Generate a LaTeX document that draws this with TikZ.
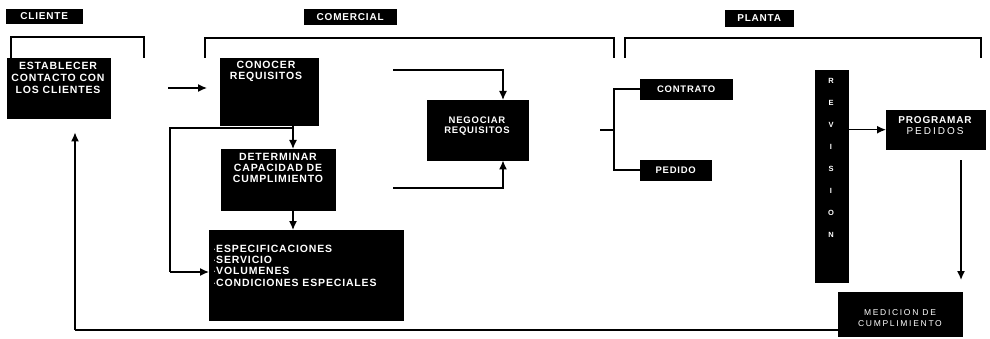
\documentclass[tikz,border=0pt]{standalone}
\usepackage{fontspec}
\setmainfont{Liberation Sans}
\newfontfamily\bxfont[LetterSpace=8]{Liberation Sans Bold}
\newfontfamily\lgfont[LetterSpace=20]{Liberation Sans}
\usetikzlibrary{arrows.meta}
\begin{document}
\begin{tikzpicture}[x=1pt,y=-1pt,
  blk/.style={fill=black,draw=black,inner sep=0pt,anchor=north west},
  wt/.style={text=white,inner sep=0pt,align=center},
  ln/.style={line width=1.4pt},
  arr/.style={line width=1.4pt,-{Latex[length=9pt,width=8pt]}}]
\useasboundingbox (0,0) rectangle (990,339);
% section labels
\node[blk,minimum width=76pt,minimum height=14pt] (lcli) at (6,9) {};
\node[wt,font=\bxfont\fontsize{10}{10}\selectfont] (tcli) at (lcli.center) {CLIENTE};
\node[blk,minimum width=92pt,minimum height=15pt] (lcom) at (304,9) {};
\node[wt,font=\bxfont\fontsize{10}{10}\selectfont] (tcom) at (lcom.center) {COMERCIAL};
\node[blk,minimum width=68pt,minimum height=16pt] (lpla) at (725,10) {};
\node[wt,font=\bxfont\fontsize{10}{10}\selectfont] (tpla) at (lpla.center) {PLANTA};
% brackets
\draw[ln] (11,58) -- (11,37) -- (144,37) -- (144,58);
\draw[ln] (205,58) -- (205,38) -- (614,38) -- (614,58);
\draw[ln] (625,58) -- (625,38) -- (981,38) -- (981,58);
% boxes
\node[blk,minimum width=103pt,minimum height=60pt] (est) at (7,58) {};
\node[wt,anchor=north,font=\bxfont\fontsize{10.5}{12}\selectfont] (test) at (58,62) {ESTABLECER\\CONTACTO CON\\LOS CLIENTES};
\node[blk,minimum width=98pt,minimum height=67pt] (con) at (220,58) {};
\node[wt,anchor=north,font=\bxfont\fontsize{10.5}{11}\selectfont] (tcon) at (266,61) {CONOCER\\REQUISITOS};
\node[blk,minimum width=114pt,minimum height=61pt] (det) at (221,149) {};
\node[wt,anchor=north,font=\bxfont\fontsize{10.5}{11}\selectfont] (tdet) at (278,153) {DETERMINAR\\CAPACIDAD DE\\CUMPLIMIENTO};
\node[blk,minimum width=194pt,minimum height=90pt] (spec) at (209,230) {};
\node[wt,anchor=north west,align=left,font=\bxfont\fontsize{10.5}{11.2}\selectfont] (tspec) at (213,245) {$\cdot$ESPECIFICACIONES\\$\cdot$SERVICIO\\$\cdot$VOLUMENES\\$\cdot$CONDICIONES ESPECIALES};
\node[blk,minimum width=101pt,minimum height=60pt] (neg) at (427,100) {};
\node[wt,font=\bxfont\fontsize{9.5}{10.5}\selectfont] (tneg) at (477,126) {NEGOCIAR\\REQUISITOS};
\node[blk,minimum width=92pt,minimum height=20pt] (ctr) at (640,79) {};
\node[wt,font=\bxfont\fontsize{9.5}{10}\selectfont] (tctr) at (ctr.center) {CONTRATO};
\node[blk,minimum width=71pt,minimum height=20pt] (ped) at (640,160) {};
\node[wt,font=\bxfont\fontsize{9.5}{10}\selectfont] (tped) at (ped.center) {PEDIDO};
\node[blk,minimum width=33pt,minimum height=212pt] (rev) at (815,70) {};
\node[wt,anchor=north,font=\bfseries\fontsize{7.5}{22}\selectfont] (trev) at (831,78) {R\\E\\V\\I\\S\\I\\O\\N};
\node[blk,minimum width=99pt,minimum height=39pt] (prog) at (886,110) {};
\node[wt,font=\bxfont\fontsize{10}{11}\selectfont] (tprog) at (935,126) {PROGRAMAR\\{\lgfont PEDIDOS}};
\node[blk,minimum width=124pt,minimum height=44pt] (med) at (838,292) {};
\node[wt,font=\lgfont\fontsize{8.5}{11}\selectfont] (tmed) at (900,318) {MEDICION DE\\CUMPLIMIENTO};
% connector coordinates
\coordinate (a1) at (168,88);
\coordinate (cx) at (293,0);
\coordinate (j1) at (293,128);
\coordinate (j2) at (170,272);
\coordinate (n1) at (393,70);
\coordinate (n2) at (393,188);
\coordinate (nx) at (503,0);
\coordinate (b1) at (600,130);
\coordinate (bx) at (614,130);
\coordinate (mx) at (961,0);
\coordinate (r1) at (838,330);
\coordinate (r2) at (75,330);
% connectors
\draw[arr,shorten >=13pt] (a1) -- (a1 -| con.west);
\draw[arr] (con.south -| cx) -- (det.north -| cx);
\draw[ln] (j1) -| (j2);
\draw[arr] (j2) -- (j2 -| spec.west);
\draw[arr] (det.south -| cx) -- (spec.north -| cx);
\draw[arr] (n1) -| (neg.north -| nx);
\draw[arr] (n2) -| (neg.south -| nx);
\draw[ln] (b1) -- (bx);
\draw[ln] (ctr.west) -| (bx) |- (ped.west);
\draw[arr] (rev.east |- prog.west) -- (prog.west);
\draw[arr,shorten <=11pt,shorten >=12pt] (prog.south -| mx) -- (med.north -| mx);
\draw[ln] (r1) -- (r2);
\draw[arr,shorten >=14pt] (r2) -- (r2 |- est.south);
\end{tikzpicture}
\end{document}
